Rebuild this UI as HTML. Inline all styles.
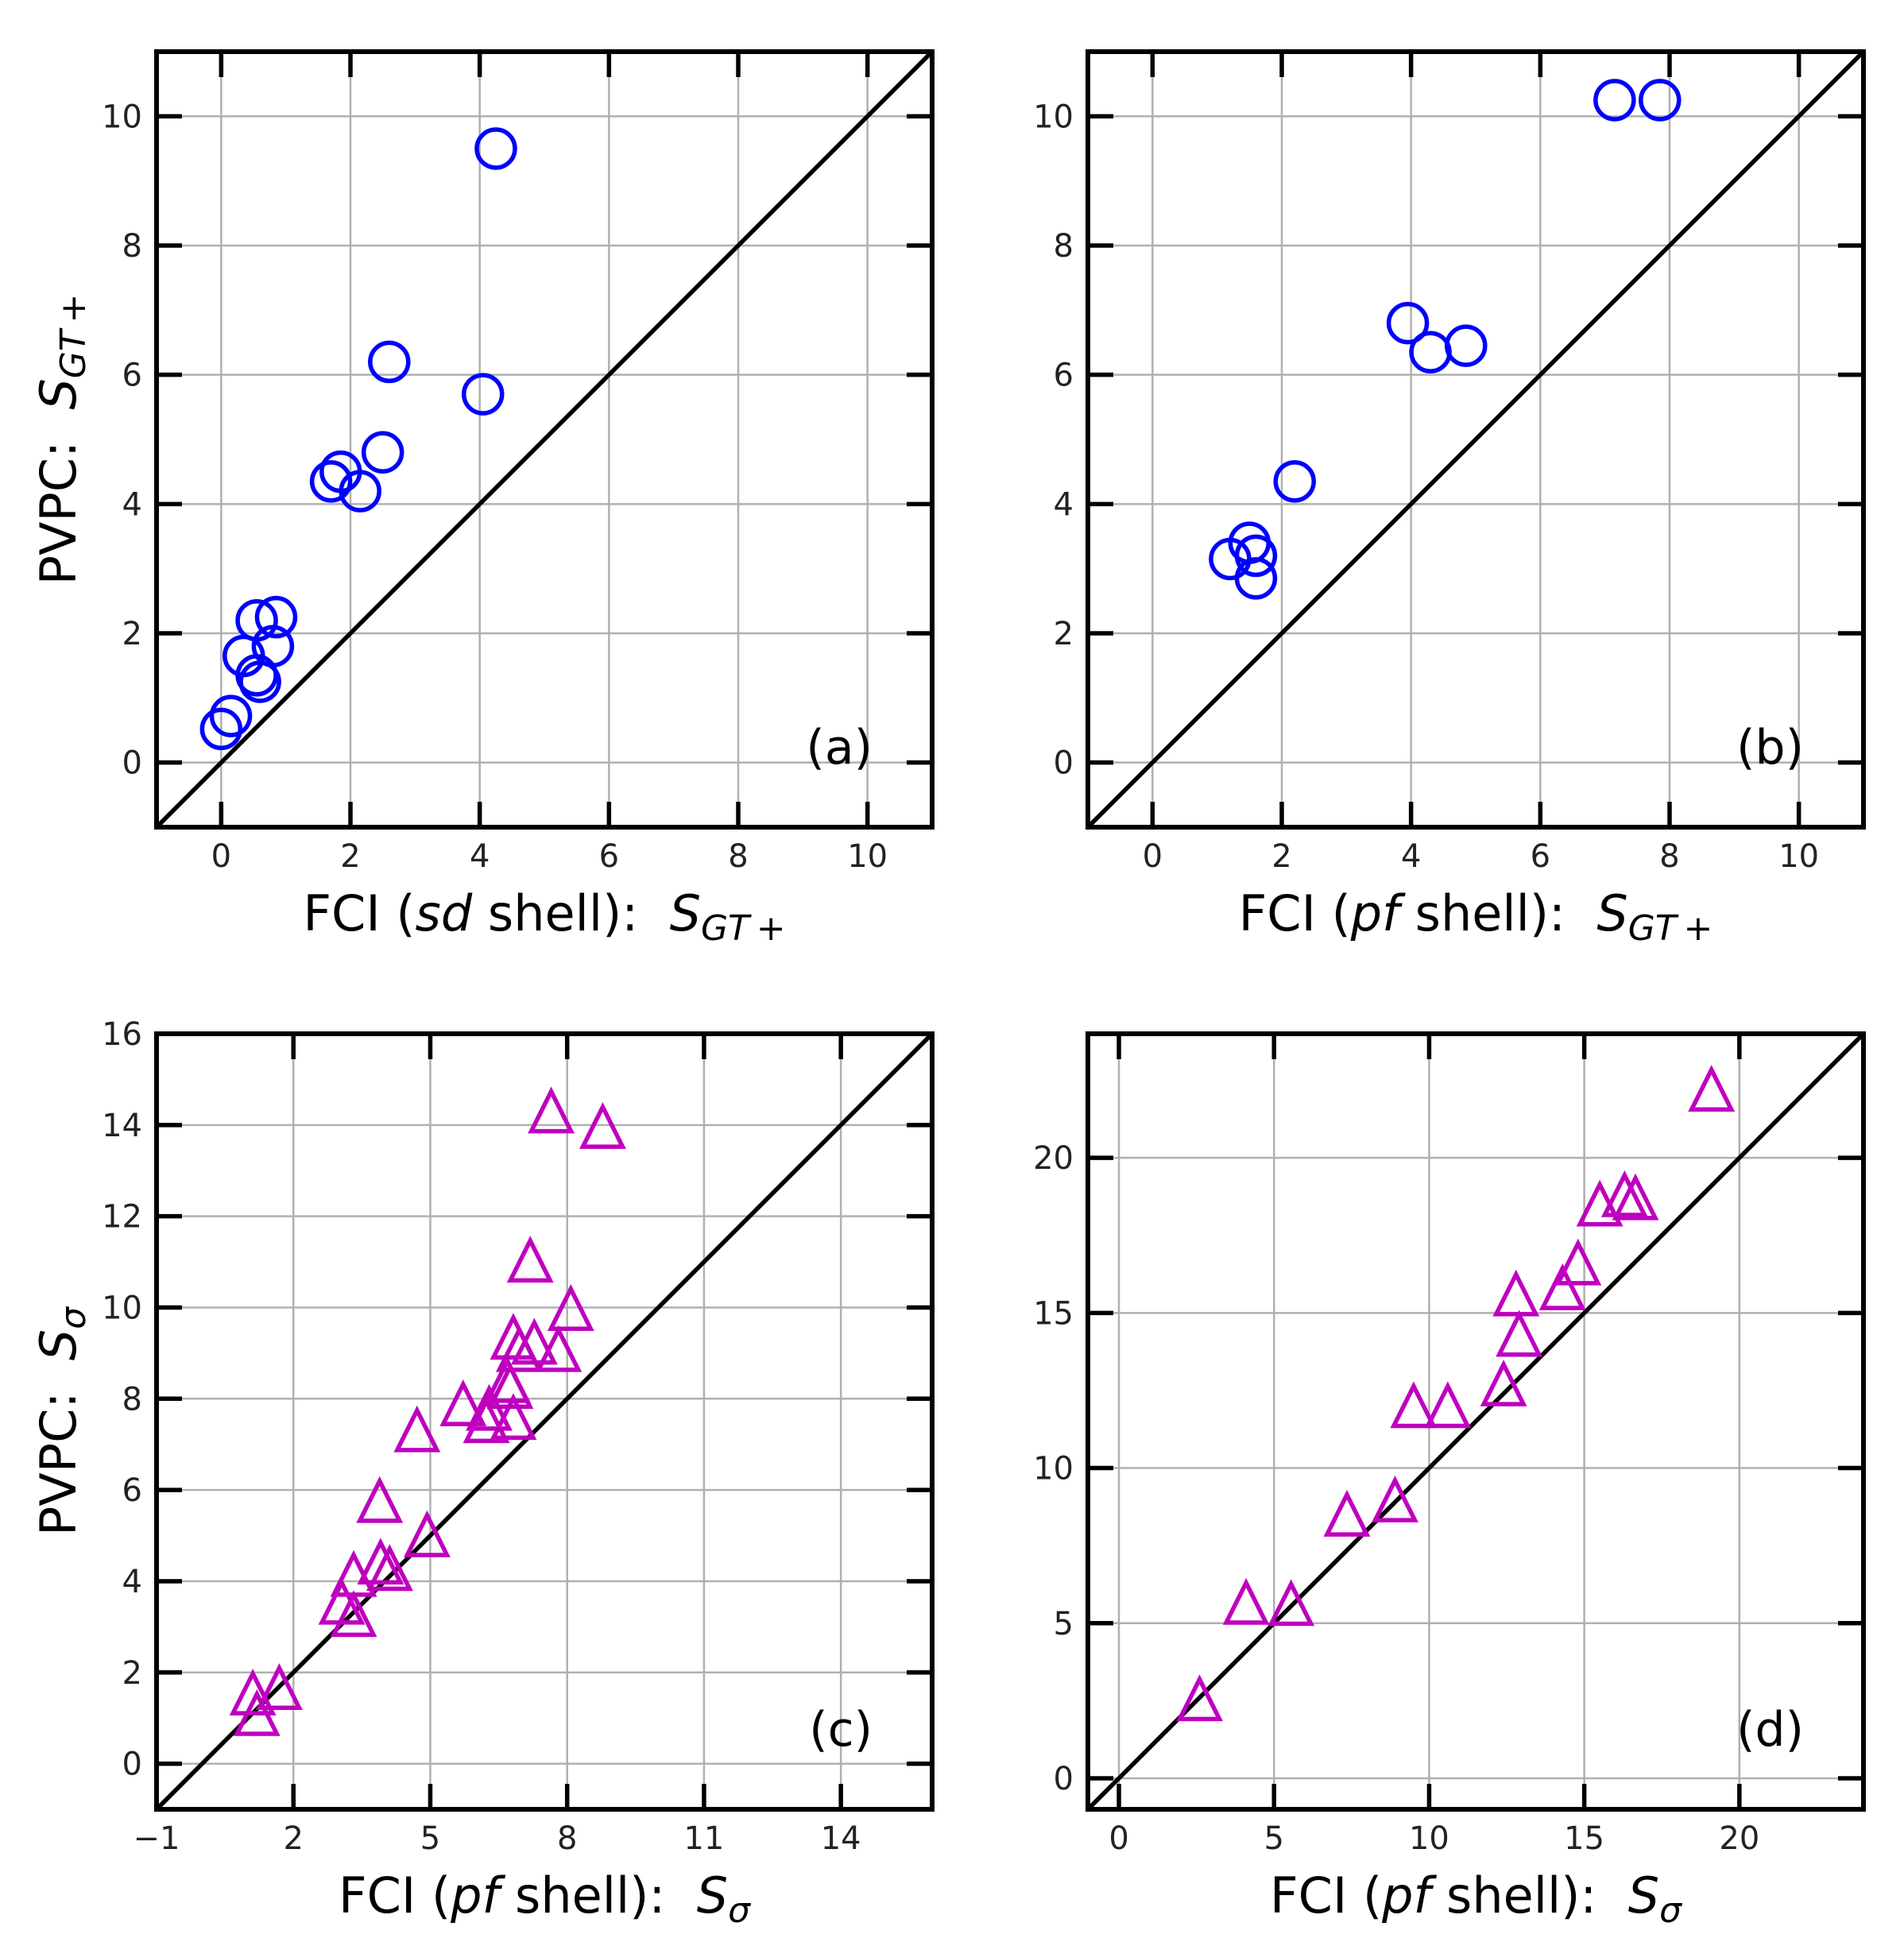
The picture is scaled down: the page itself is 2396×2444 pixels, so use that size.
<!DOCTYPE html>
<html><head><meta charset="utf-8"><style>
html,body{margin:0;padding:0;background:#fff;}
svg{display:block;font-family:"DejaVu Sans","Liberation Sans",sans-serif;}
</style></head><body>
<svg id="fig" width="2396" height="2444" viewBox="0 0 2396 2444" xmlns="http://www.w3.org/2000/svg"></svg>
<script>
// Panel (a) data
const aX = [0.0,0.15,0.55,0.85,0.35,0.8,0.55,0.6,1.7,1.85,2.15,2.5,2.6,4.05,4.25];
const aY = [0.52,0.72,2.2,2.25,1.65,1.8,1.35,1.25,4.35,4.5,4.2,4.8,6.2,5.7,9.5];
const aTicks = [0,2,4,6,8,10];
// Panel (b) data
const bX = [1.2,1.5,1.6,1.6,2.2,3.95,4.3,4.85,7.15,7.85];
const bY = [3.15,3.4,3.2,2.85,4.35,6.8,6.35,6.45,10.25,10.25];
const bTicks = [0,2,4,6,8,10];
// Panel (c) data
const cX = [7.65,8.78,7.19,8.08,6.82,7.28,7.81,6.95,6.69,6.75,5.72,6.29,6.23,6.82,4.71,3.89,4.93,3.91,4.11,3.32,3.06,3.32,1.11,1.69,1.2];
const cY = [14.3,13.96,11.03,9.97,9.34,9.23,9.07,9.07,8.39,8.26,7.88,7.78,7.51,7.58,7.31,5.76,5.01,4.41,4.27,4.14,3.53,3.26,1.54,1.66,1.09];
const cXTicks = [-1,2,5,8,11,14];
const cYTicks = [0,2,4,6,8,10,12,14,16];
// Panel (d) data
const dX = [19.1,16.3,16.65,15.5,14.8,14.3,12.8,12.9,12.4,9.5,10.6,8.9,7.35,4.1,5.55,2.6];
const dY = [22.2,18.8,18.7,18.5,16.6,15.8,15.6,14.3,12.7,12.0,12.0,8.96,8.5,5.66,5.62,2.55];
const dTicks = [0,5,10,15,20];

const NS = "http://www.w3.org/2000/svg";
const fig = document.getElementById('fig');
function mk(tag, attrs, parent) {
  const e = document.createElementNS(NS, tag);
  for (const k in attrs) e.setAttribute(k, attrs[k]);
  (parent || fig).appendChild(e);
  return e;
}
function fmt(v){ return v < 0 ? '\u2212' + (-v) : String(v); }

function panel(o) {
  const g = mk('g', {});
  
  
  const L = o.left, R = o.left + 976, T = o.top, B = o.top + 976;
  const sx = v => L + (v - o.xmin) / (o.xmax - o.xmin) * (R - L);
  const sy = v => B - (v - o.ymin) / (o.ymax - o.ymin) * (B - T);
  o.xticks.forEach(t => {
    const l = mk('line', {x1: sx(t), x2: sx(t), y1: T, y2: B, stroke: '#b0b0b0', 'stroke-width': 2.5}, g);
    
    
  });
  o.yticks.forEach(t => {
    if (sy(t) < T - 1) return;
    const l = mk('line', {x1: L, x2: R, y1: sy(t), y2: sy(t), stroke: '#b0b0b0', 'stroke-width': 2.5}, g);
    
    
  });
  const lo = Math.max(o.xmin, o.ymin), hi = Math.min(o.xmax, o.ymax);
  const d = mk('line', {x1: sx(lo), y1: sy(lo), x2: sx(hi), y2: sy(hi), stroke: '#000', 'stroke-width': 5.5}, g);
  
  
  o.xs.forEach((x, i) => {
    const cx = sx(x), cy = sy(o.ys[i]);
    let m;
    if (o.marker === 'circle') {
      m = mk('circle', {cx: cx, cy: cy, r: 24, fill: 'none', stroke: '#0000ff', 'stroke-width': 5.5}, g);
    } else {
      const h = 25;
      m = mk('polygon', {points: `${cx},${cy-h} ${cx-h},${cy+h} ${cx+h},${cy+h}`, fill: 'none', stroke: '#bf00bf', 'stroke-width': 5.5}, g);
    }
    
    
  });
  o.xticks.forEach(t => {
    const x = sx(t);
    mk('line', {x1: x, x2: x, y1: B, y2: B - 32, stroke: '#000', 'stroke-width': 5.5}, g);
    mk('line', {x1: x, x2: x, y1: T, y2: T + 32, stroke: '#000', 'stroke-width': 5.5}, g);
    const tx = mk('text', {x: x, y: B + 50, 'font-size': 40, 'text-anchor': 'middle', fill: '#222'}, g);
    tx.textContent = fmt(t);
    
    
  });
  o.yticks.forEach(t => {
    const y = sy(t);
    if (y > T + 1) {
      mk('line', {x1: L, x2: L + 32, y1: y, y2: y, stroke: '#000', 'stroke-width': 5.5}, g);
      mk('line', {x1: R, x2: R - 32, y1: y, y2: y, stroke: '#000', 'stroke-width': 5.5}, g);
    }
    const tx = mk('text', {x: L - 18, y: y + 14, 'font-size': 40, 'text-anchor': 'end', fill: '#222'}, g);
    tx.textContent = fmt(t);
    
    
  });
  const f = mk('rect', {x: L, y: T, width: R - L, height: B - T, fill: 'none', stroke: '#000', 'stroke-width': 6}, g);
  
  
  const pl = mk('text', {x: R - 75, y: B - 80, 'font-size': 60, 'text-anchor': 'end', fill: '#000'}, g);
  pl.textContent = o.label;
  
  
  const xt = mk('text', {x: (L + R) / 2, y: B + 130, 'font-size': 62, 'text-anchor': 'middle', fill: '#000'}, g);
  xt.innerHTML = o.xtitle;
  
  
  if (o.ytitle) {
    const cx = 95, cy = (T + B) / 2;
    const yt = mk('text', {x: cx, y: cy, 'font-size': 62, 'text-anchor': 'middle', fill: '#000', transform: `rotate(-90 ${cx} ${cy})`}, g);
    yt.innerHTML = o.ytitle;
    
    
  }
}
const sgt = '<tspan font-style="italic">S</tspan><tspan font-size="44" dy="12"><tspan font-style="italic">GT</tspan>\u2009+</tspan>';
const ssig = '<tspan font-style="italic">S</tspan><tspan font-size="44" dy="12" font-style="italic">σ</tspan>';
panel({name:'panel-a', left:197, top:65, xmin:-1, xmax:11, ymin:-1, ymax:11, xs:aX, ys:aY, xticks:aTicks, yticks:aTicks, marker:'circle', label:'(a)',
  xtitle:'FCI (<tspan font-style="italic">sd</tspan> shell):\u00a0\u00a0' + sgt, ytitle:'PVPC:\u00a0\u00a0' + sgt});
panel({name:'panel-b', left:1369, top:65, xmin:-1, xmax:11, ymin:-1, ymax:11, xs:bX, ys:bY, xticks:bTicks, yticks:bTicks, marker:'circle', label:'(b)',
  xtitle:'FCI (<tspan font-style="italic">pf</tspan> shell):\u00a0\u00a0' + sgt});
panel({name:'panel-c', left:197, top:1301, xmin:-1, xmax:16, ymin:-1, ymax:16, xs:cX, ys:cY, xticks:cXTicks, yticks:cYTicks, marker:'triangle', label:'(c)',
  xtitle:'FCI (<tspan font-style="italic">pf</tspan> shell):\u00a0\u00a0' + ssig, ytitle:'PVPC:\u00a0\u00a0' + ssig});
panel({name:'panel-d', left:1369, top:1301, xmin:-1, xmax:24, ymin:-1, ymax:24, xs:dX, ys:dY, xticks:dTicks, yticks:dTicks, marker:'triangle', label:'(d)',
  xtitle:'FCI (<tspan font-style="italic">pf</tspan> shell):\u00a0\u00a0' + ssig});
</script>
</body></html>
